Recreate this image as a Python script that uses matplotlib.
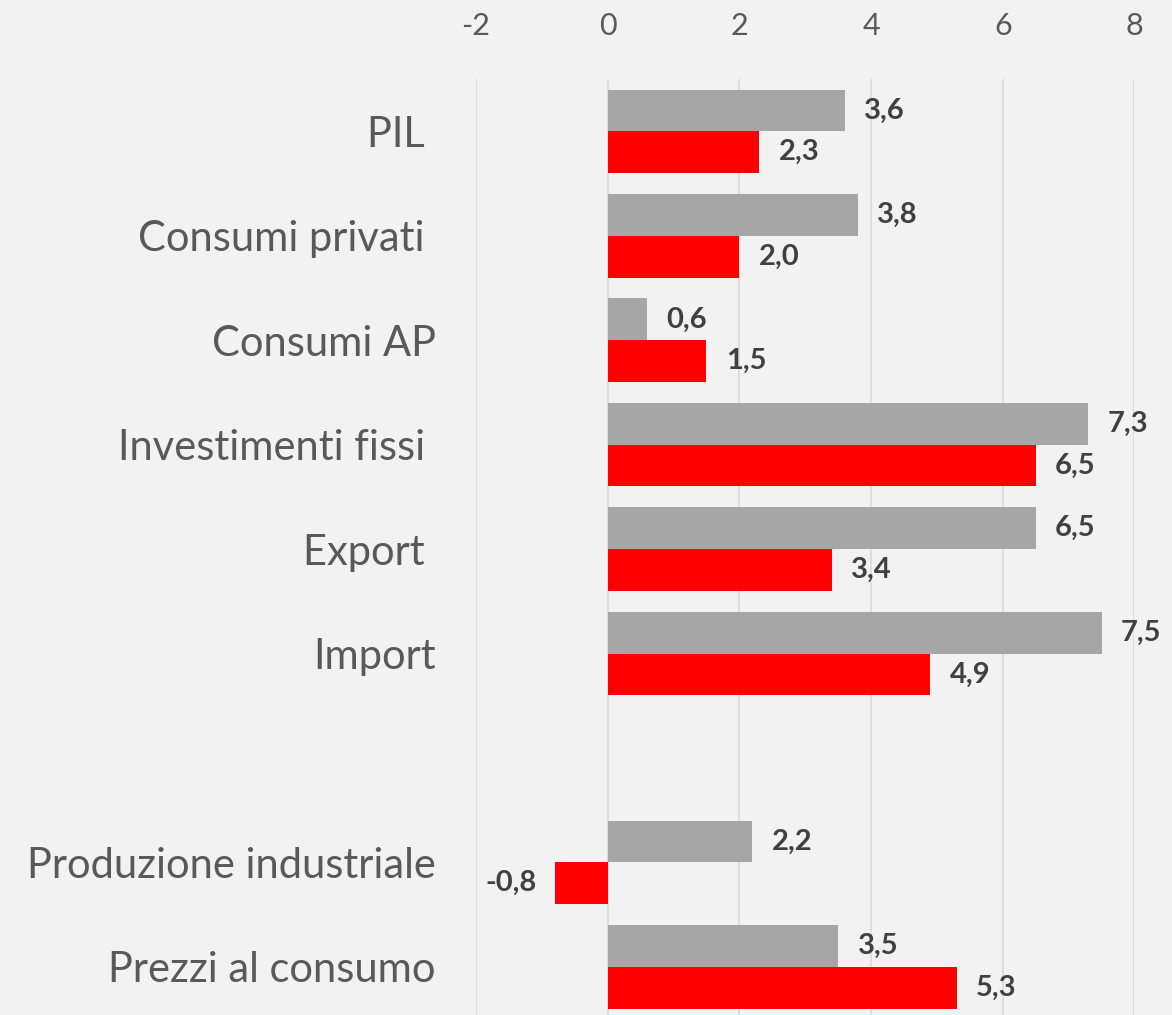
import numpy as np
import matplotlib.pyplot as plt

categories = ["PIL ", "Consumi privati ", "Consumi AP", "Investimenti fissi ",
              "Export ", "Import", "", "Produzione industriale", "Prezzi al consumo"]
gray_values = [3.6, 3.8, 0.6, 7.3, 6.5, 7.5, None, 2.2, 3.5]
red_values = [2.3, 2.0, 1.5, 6.5, 3.4, 4.9, None, -0.8, 5.3]
xticks = [-2, 0, 2, 4, 6, 8]

plt.rcParams['font.family'] = ['Lato', 'DejaVu Sans']

fig = plt.figure(figsize=(11.72, 10.15), dpi=100, facecolor="#f2f2f2")
ax = fig.add_axes([0.406, -0.004, 0.562, 0.926])
ax.set_facecolor("#f2f2f2")

h = 0.4
y = np.arange(len(categories))
for i, (g, r) in enumerate(zip(gray_values, red_values)):
    if g is None:
        continue
    ax.barh(i - h / 2, g, height=h, color="#a6a6a6", zorder=2)
    ax.barh(i + h / 2, r, height=h, color="#ff0000", zorder=2)
    for val, yy in ((g, i - h / 2), (r, i + h / 2)):
        txt = f"{val:.1f}".replace(".", ",")
        ax.annotate(txt, (val, yy), xytext=(14 if val >= 0 else -13, 0),
                    textcoords="offset points", va="center",
                    ha="left" if val >= 0 else "right",
                    fontsize=21, fontweight="bold", color="#404040",
                    annotation_clip=False)

ax.set_xlim(-2, 8)
ax.set_ylim(len(categories) - 0.5, -0.5)
ax.set_xticks(xticks)
ax.set_xticklabels([str(t) for t in xticks])
ax.xaxis.tick_top()
ax.tick_params(axis="x", length=0, pad=28, labelsize=22, labelcolor="#595959")
ax.set_yticks(y)
ax.set_yticklabels(categories)
ax.tick_params(axis="y", length=0, pad=29, labelsize=30, labelcolor="#595959")
ax.grid(axis="x", color="#d9d9d9", linewidth=1.2, zorder=0)
ax.set_axisbelow(True)
for s in ax.spines.values():
    s.set_visible(False)

fig.savefig("out.png", dpi=100, facecolor=fig.get_facecolor())
